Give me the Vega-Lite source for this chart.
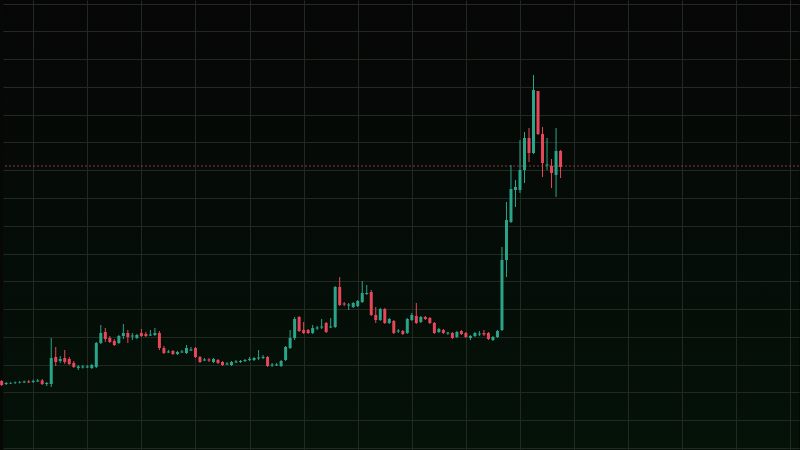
{
  "$schema": "https://vega.github.io/schema/vega-lite/v6.json",
  "width": 800,
  "height": 450,
  "padding": 0,
  "autosize": {"type": "fit", "contains": "padding"},
  "background": "#060806",
  "config": {
    "view": {"stroke": null, "fill": {"gradient": "linear", "x1": 0, "y1": 0, "x2": 0, "y2": 1, "stops": [{"offset": 0, "color": "#060606"}, {"offset": 1, "color": "#041208"}]}},
    "axis": {"labels": false, "ticks": false, "domain": false, "title": null, "grid": true, "gridColor": "#222922", "gridWidth": 1}
  },
  "data": {"values": [
    {"t": -7, "o": 24.12, "h": 24.48, "l": 22.32, "c": 22.68},
    {"t": -6, "o": 23.04, "h": 23.76, "l": 22.68, "c": 23.40},
    {"t": -5, "o": 23.22, "h": 23.76, "l": 23.04, "c": 23.40},
    {"t": -4, "o": 23.40, "h": 23.94, "l": 23.04, "c": 23.58},
    {"t": -3, "o": 23.58, "h": 24.12, "l": 23.22, "c": 23.76},
    {"t": -2, "o": 23.58, "h": 24.30, "l": 23.40, "c": 23.94},
    {"t": -1, "o": 23.94, "h": 24.48, "l": 23.40, "c": 23.58},
    {"t": 0, "o": 23.76, "h": 24.66, "l": 23.40, "c": 24.12},
    {"t": 1, "o": 23.94, "h": 24.84, "l": 23.76, "c": 24.30},
    {"t": 2, "o": 24.30, "h": 24.84, "l": 22.68, "c": 23.04},
    {"t": 3, "o": 23.04, "h": 23.76, "l": 22.32, "c": 23.40},
    {"t": 4, "o": 23.04, "h": 39.60, "l": 21.96, "c": 32.40},
    {"t": 5, "o": 32.76, "h": 36.36, "l": 29.52, "c": 30.96},
    {"t": 6, "o": 31.32, "h": 33.12, "l": 30.60, "c": 32.04},
    {"t": 7, "o": 32.40, "h": 35.28, "l": 30.24, "c": 30.96},
    {"t": 8, "o": 32.04, "h": 32.76, "l": 29.88, "c": 30.24},
    {"t": 9, "o": 30.60, "h": 31.32, "l": 28.80, "c": 29.16},
    {"t": 10, "o": 28.80, "h": 29.88, "l": 28.08, "c": 29.34},
    {"t": 11, "o": 28.98, "h": 29.88, "l": 28.62, "c": 29.34},
    {"t": 12, "o": 28.98, "h": 29.88, "l": 28.80, "c": 29.34},
    {"t": 13, "o": 28.80, "h": 30.24, "l": 28.44, "c": 29.88},
    {"t": 14, "o": 29.16, "h": 38.16, "l": 28.80, "c": 37.80},
    {"t": 15, "o": 37.80, "h": 44.28, "l": 37.44, "c": 41.40},
    {"t": 16, "o": 41.76, "h": 43.20, "l": 38.16, "c": 39.24},
    {"t": 17, "o": 39.60, "h": 40.32, "l": 37.80, "c": 38.16},
    {"t": 18, "o": 38.52, "h": 39.24, "l": 36.72, "c": 37.08},
    {"t": 19, "o": 37.80, "h": 40.68, "l": 37.44, "c": 40.32},
    {"t": 20, "o": 40.32, "h": 44.64, "l": 39.24, "c": 41.40},
    {"t": 21, "o": 41.40, "h": 42.48, "l": 37.80, "c": 39.96},
    {"t": 22, "o": 40.14, "h": 41.40, "l": 38.88, "c": 40.50},
    {"t": 23, "o": 39.60, "h": 41.04, "l": 39.24, "c": 40.68},
    {"t": 24, "o": 41.40, "h": 42.84, "l": 39.96, "c": 40.32},
    {"t": 25, "o": 41.04, "h": 41.76, "l": 39.96, "c": 40.32},
    {"t": 26, "o": 40.50, "h": 42.48, "l": 40.32, "c": 40.86},
    {"t": 27, "o": 40.68, "h": 43.20, "l": 40.32, "c": 41.40},
    {"t": 28, "o": 41.40, "h": 42.12, "l": 35.28, "c": 36.00},
    {"t": 29, "o": 36.00, "h": 36.72, "l": 33.84, "c": 34.20},
    {"t": 30, "o": 34.38, "h": 35.28, "l": 34.20, "c": 34.74},
    {"t": 31, "o": 34.92, "h": 35.28, "l": 33.48, "c": 33.84},
    {"t": 32, "o": 33.84, "h": 34.92, "l": 33.48, "c": 34.56},
    {"t": 33, "o": 34.38, "h": 35.28, "l": 34.20, "c": 34.74},
    {"t": 34, "o": 34.20, "h": 37.08, "l": 33.84, "c": 36.00},
    {"t": 35, "o": 35.10, "h": 36.36, "l": 34.92, "c": 35.46},
    {"t": 36, "o": 36.00, "h": 36.36, "l": 32.40, "c": 32.76},
    {"t": 37, "o": 32.76, "h": 33.12, "l": 30.60, "c": 30.96},
    {"t": 38, "o": 31.50, "h": 32.40, "l": 31.32, "c": 31.86},
    {"t": 39, "o": 31.86, "h": 32.40, "l": 30.96, "c": 31.50},
    {"t": 40, "o": 30.96, "h": 32.40, "l": 30.60, "c": 32.04},
    {"t": 41, "o": 31.68, "h": 32.04, "l": 30.24, "c": 30.60},
    {"t": 42, "o": 30.96, "h": 31.32, "l": 29.52, "c": 29.88},
    {"t": 43, "o": 30.06, "h": 30.96, "l": 29.88, "c": 30.42},
    {"t": 44, "o": 29.88, "h": 31.32, "l": 29.52, "c": 30.96},
    {"t": 45, "o": 30.78, "h": 31.68, "l": 30.60, "c": 31.14},
    {"t": 46, "o": 30.96, "h": 31.68, "l": 30.60, "c": 31.32},
    {"t": 47, "o": 31.32, "h": 32.04, "l": 30.96, "c": 31.68},
    {"t": 48, "o": 31.68, "h": 32.76, "l": 31.32, "c": 32.04},
    {"t": 49, "o": 31.68, "h": 32.76, "l": 31.32, "c": 32.40},
    {"t": 50, "o": 32.22, "h": 35.28, "l": 31.68, "c": 32.58},
    {"t": 51, "o": 32.40, "h": 33.48, "l": 32.04, "c": 32.76},
    {"t": 52, "o": 32.76, "h": 33.12, "l": 29.16, "c": 29.52},
    {"t": 53, "o": 29.70, "h": 30.60, "l": 29.16, "c": 30.06},
    {"t": 54, "o": 29.70, "h": 30.60, "l": 29.52, "c": 30.06},
    {"t": 55, "o": 29.52, "h": 31.68, "l": 29.16, "c": 31.32},
    {"t": 56, "o": 31.68, "h": 36.72, "l": 31.32, "c": 36.36},
    {"t": 57, "o": 36.00, "h": 42.48, "l": 35.64, "c": 39.60},
    {"t": 58, "o": 39.60, "h": 47.16, "l": 38.88, "c": 46.44},
    {"t": 59, "o": 47.16, "h": 47.52, "l": 41.76, "c": 42.12},
    {"t": 60, "o": 42.48, "h": 45.36, "l": 41.04, "c": 41.40},
    {"t": 61, "o": 42.48, "h": 42.84, "l": 41.04, "c": 41.40},
    {"t": 62, "o": 41.40, "h": 44.28, "l": 41.04, "c": 43.20},
    {"t": 63, "o": 43.02, "h": 43.92, "l": 42.48, "c": 43.38},
    {"t": 64, "o": 43.38, "h": 46.44, "l": 42.84, "c": 43.74},
    {"t": 65, "o": 45.00, "h": 45.36, "l": 41.40, "c": 41.76},
    {"t": 66, "o": 43.38, "h": 46.80, "l": 43.20, "c": 43.74},
    {"t": 67, "o": 43.56, "h": 58.32, "l": 43.20, "c": 57.96},
    {"t": 68, "o": 57.96, "h": 61.56, "l": 51.12, "c": 51.48},
    {"t": 69, "o": 52.02, "h": 52.56, "l": 51.12, "c": 51.66},
    {"t": 70, "o": 51.30, "h": 52.20, "l": 49.68, "c": 51.66},
    {"t": 71, "o": 50.76, "h": 52.56, "l": 50.40, "c": 52.20},
    {"t": 72, "o": 51.12, "h": 53.28, "l": 50.76, "c": 52.92},
    {"t": 73, "o": 52.56, "h": 60.12, "l": 52.20, "c": 55.80},
    {"t": 74, "o": 55.44, "h": 58.68, "l": 55.08, "c": 55.80},
    {"t": 75, "o": 56.16, "h": 56.88, "l": 47.52, "c": 47.88},
    {"t": 76, "o": 47.88, "h": 50.76, "l": 45.00, "c": 46.08},
    {"t": 77, "o": 46.08, "h": 50.40, "l": 45.72, "c": 50.04},
    {"t": 78, "o": 50.04, "h": 50.40, "l": 44.64, "c": 45.00},
    {"t": 79, "o": 45.00, "h": 46.80, "l": 44.64, "c": 46.44},
    {"t": 80, "o": 45.72, "h": 46.08, "l": 41.04, "c": 41.40},
    {"t": 81, "o": 41.94, "h": 42.84, "l": 41.40, "c": 42.30},
    {"t": 82, "o": 42.12, "h": 42.48, "l": 40.68, "c": 41.04},
    {"t": 83, "o": 41.40, "h": 46.80, "l": 41.04, "c": 46.44},
    {"t": 84, "o": 46.08, "h": 48.60, "l": 45.72, "c": 47.88},
    {"t": 85, "o": 47.52, "h": 52.20, "l": 44.64, "c": 45.00},
    {"t": 86, "o": 45.36, "h": 47.52, "l": 45.00, "c": 47.16},
    {"t": 87, "o": 47.16, "h": 47.52, "l": 46.08, "c": 46.44},
    {"t": 88, "o": 46.80, "h": 47.16, "l": 44.64, "c": 45.00},
    {"t": 89, "o": 45.00, "h": 45.36, "l": 41.04, "c": 41.40},
    {"t": 90, "o": 41.76, "h": 43.20, "l": 41.40, "c": 42.84},
    {"t": 91, "o": 42.48, "h": 42.84, "l": 41.04, "c": 41.40},
    {"t": 92, "o": 41.22, "h": 41.76, "l": 40.68, "c": 41.58},
    {"t": 93, "o": 41.40, "h": 41.76, "l": 39.24, "c": 39.60},
    {"t": 94, "o": 39.96, "h": 42.12, "l": 39.60, "c": 41.76},
    {"t": 95, "o": 42.12, "h": 42.48, "l": 40.68, "c": 41.04},
    {"t": 96, "o": 41.40, "h": 41.76, "l": 39.60, "c": 39.96},
    {"t": 97, "o": 39.60, "h": 40.68, "l": 38.88, "c": 40.32},
    {"t": 98, "o": 40.32, "h": 41.76, "l": 39.96, "c": 41.40},
    {"t": 99, "o": 40.86, "h": 42.12, "l": 40.32, "c": 41.22},
    {"t": 100, "o": 41.40, "h": 42.48, "l": 40.32, "c": 40.86},
    {"t": 101, "o": 41.40, "h": 41.76, "l": 38.88, "c": 39.24},
    {"t": 102, "o": 38.88, "h": 40.32, "l": 38.52, "c": 39.96},
    {"t": 103, "o": 39.96, "h": 42.48, "l": 39.60, "c": 42.12},
    {"t": 104, "o": 42.48, "h": 72.36, "l": 42.12, "c": 67.68},
    {"t": 105, "o": 67.68, "h": 88.56, "l": 61.56, "c": 82.08},
    {"t": 106, "o": 81.36, "h": 101.88, "l": 81.00, "c": 93.24},
    {"t": 107, "o": 92.88, "h": 96.48, "l": 86.76, "c": 93.96},
    {"t": 108, "o": 92.88, "h": 110.88, "l": 91.80, "c": 100.08},
    {"t": 109, "o": 100.08, "h": 113.76, "l": 95.40, "c": 111.60},
    {"t": 110, "o": 111.60, "h": 115.20, "l": 102.96, "c": 106.20},
    {"t": 111, "o": 106.20, "h": 134.28, "l": 105.84, "c": 128.88},
    {"t": 112, "o": 128.52, "h": 128.52, "l": 112.68, "c": 113.04},
    {"t": 113, "o": 113.04, "h": 115.56, "l": 97.56, "c": 102.60},
    {"t": 114, "o": 101.70, "h": 111.60, "l": 100.08, "c": 102.06},
    {"t": 115, "o": 101.52, "h": 104.04, "l": 93.60, "c": 99.00},
    {"t": 116, "o": 98.28, "h": 115.20, "l": 90.36, "c": 106.92},
    {"t": 117, "o": 106.92, "h": 107.28, "l": 97.20, "c": 101.16}
  ]},
  "encoding": {
    "x": {"field": "t", "type": "quantitative", "scale": {"domain": [-6.7, 169.9], "nice": false, "zero": false, "padding": 0}, "axis": {"values": [0, 12, 24, 36, 48, 60, 72, 84, 96, 108, 120, 132, 144, 156, 168]}},
    "color": {"condition": {"test": "datum.c >= datum.o", "value": "#2ba58a"}, "value": "#e8475a"}
  },
  "layer": [
    {
      "mark": {"type": "rule", "strokeDash": [2, 2], "color": "#8c3b33", "strokeWidth": 1},
      "data": {"values": [{"l": 101.52}]},
      "encoding": {"x": null, "color": null, "y": {"field": "l", "type": "quantitative", "scale": {"domain": [-0.72, 161.28], "nice": false, "zero": false, "padding": 0}, "axis": {"values": [0, 10, 20, 30, 40, 50, 60, 70, 80, 90, 100, 110, 120, 130, 140, 150, 160]}}}
    },
    {
      "mark": {"type": "rule", "strokeWidth": 1},
      "encoding": {
        "y": {"field": "l", "type": "quantitative", "scale": {"domain": [-0.72, 161.28], "nice": false, "zero": false, "padding": 0}, "axis": {"values": [0, 10, 20, 30, 40, 50, 60, 70, 80, 90, 100, 110, 120, 130, 140, 150, 160]}},
        "y2": {"field": "h"}
      }
    },
    {
      "mark": {"type": "bar", "size": 3, "minBandSize": 1},
      "encoding": {
        "y": {"field": "o", "type": "quantitative", "scale": {"domain": [-0.72, 161.28], "nice": false, "zero": false, "padding": 0}, "axis": {"values": [0, 10, 20, 30, 40, 50, 60, 70, 80, 90, 100, 110, 120, 130, 140, 150, 160]}},
        "y2": {"field": "c"}
      }
    }
  ]
}
